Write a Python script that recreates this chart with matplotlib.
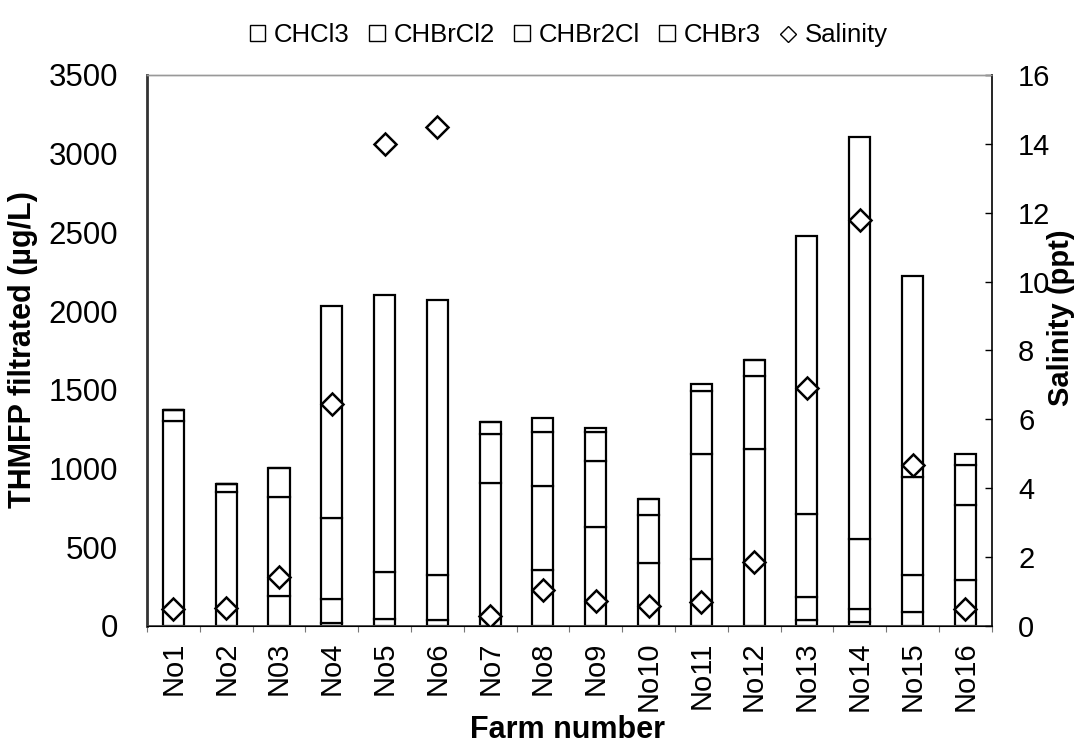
import numpy as np
import matplotlib.pyplot as plt
from matplotlib.patches import Patch
from matplotlib.lines import Line2D

plt.rcParams['font.family'] = ['Liberation Sans', 'DejaVu Sans']

# THMFP species per farm (ug/L), stacked bottom to top
farms = ['No1', 'No2', 'N03', 'No4', 'No5', 'No6', 'No7', 'No8',
         'No9', 'No10', 'No11', 'No12', 'No13', 'No14', 'No15', 'No16']
chcl3   = [1305, 853, 193, 21, 0, 0, 911, 356, 631, 402, 428, 1122, 40, 28, 89, 294]
chbrcl2 = [65, 47, 627, 151, 44, 38, 309, 533, 417, 303, 667, 466, 143, 78, 236, 475]
chbr2cl = [0, 0, 182, 514, 301, 284, 74, 341, 182, 104, 396, 100, 530, 447, 621, 254]
chbr3   = [0, 0, 0, 1349, 1756, 1747, 0, 94, 26, 0, 49, 0, 1764, 2552, 1277, 71]
salinity = [0.49, 0.51, 1.41, 6.45, 14.0, 14.5, 0.29, 1.03,
            0.73, 0.58, 0.70, 1.85, 6.9, 11.8, 4.68, 0.48]

species = [('CHCl3', chcl3), ('CHBrCl2', chbrcl2),
           ('CHBr2Cl', chbr2cl), ('CHBr3', chbr3)]

fig = plt.figure(figsize=(10.83, 7.52), dpi=100)
ax = fig.add_axes([0.1357, 0.1676, 0.780, 0.7327])
ax2 = ax.twinx()

x = np.arange(len(farms))
bottom = np.zeros(len(farms))
for name, vals in species:
    ax.bar(x, vals, width=0.40, bottom=bottom, color='white',
           edgecolor='black', linewidth=1.6, zorder=2)
    bottom += np.array(vals)

ax2.plot(x, salinity, linestyle='none', marker='D', markersize=11.5,
         markerfacecolor='white', markeredgecolor='black',
         markeredgewidth=1.8, zorder=5)

ax.set_xlim(-0.5, len(farms) - 0.5)
ax.set_ylim(0, 3500)
ax2.set_ylim(0, 16)
ax.set_yticks(np.arange(0, 3501, 500))
ax2.set_yticks(np.arange(0, 17, 2))

ax.set_xticks(x)
ax.set_xticklabels(farms, rotation=90, fontsize=21)
ax.set_xticks(np.arange(-0.5, len(farms), 1), minor=True)
ax.tick_params(axis='x', which='major', length=0, pad=11)
ax.tick_params(axis='x', which='minor', length=4, width=0.8, color='#777777')
ax.tick_params(axis='y', length=0, pad=21, labelsize=22.5)
ax2.tick_params(axis='y', direction='in', length=5, width=1, pad=19, labelsize=21)

# frame: heavy left, dotted grey top, thin right
for a in (ax, ax2):
    a.spines['top'].set_color('#999999')
    a.spines['top'].set_linestyle((0, (2, 1)))
    a.spines['top'].set_linewidth(1)
ax.spines['left'].set_linewidth(2)
ax.spines['left'].set_color('#333333')
ax2.spines['left'].set_visible(False)
ax2.spines['right'].set_linewidth(1.2)
ax.spines['bottom'].set_linewidth(1.3)
ax.spines['bottom'].set_color('#444444')
ax.spines['right'].set_visible(False)

fig.text(0.021, 0.535, 'THMFP filtrated (\u00b5g/L)', rotation=90,
         fontsize=22, fontweight='bold', ha='center', va='center')
fig.text(0.980, 0.578, 'Salinity (ppt)', rotation=90,
         fontsize=21, fontweight='bold', ha='center', va='center')
fig.text(0.524, 0.019, 'Farm number', fontsize=22, fontweight='bold',
         ha='center', va='baseline')

handles = [Patch(facecolor='white', edgecolor='black', linewidth=1)
           for _ in species]
handles.append(Line2D([], [], linestyle='none', marker='D', markersize=8.5,
                      markerfacecolor='white', markeredgecolor='black',
                      markeredgewidth=1))
labels = [s[0] for s in species] + ['Salinity']
fig.legend(handles, labels, loc='center', bbox_to_anchor=(0.525, 0.953),
           ncol=5, frameon=False, fontsize=18.5, handlelength=0.6,
           handleheight=0.6, handletextpad=0.35, columnspacing=0.75)

fig.savefig('out.png', dpi=100)
